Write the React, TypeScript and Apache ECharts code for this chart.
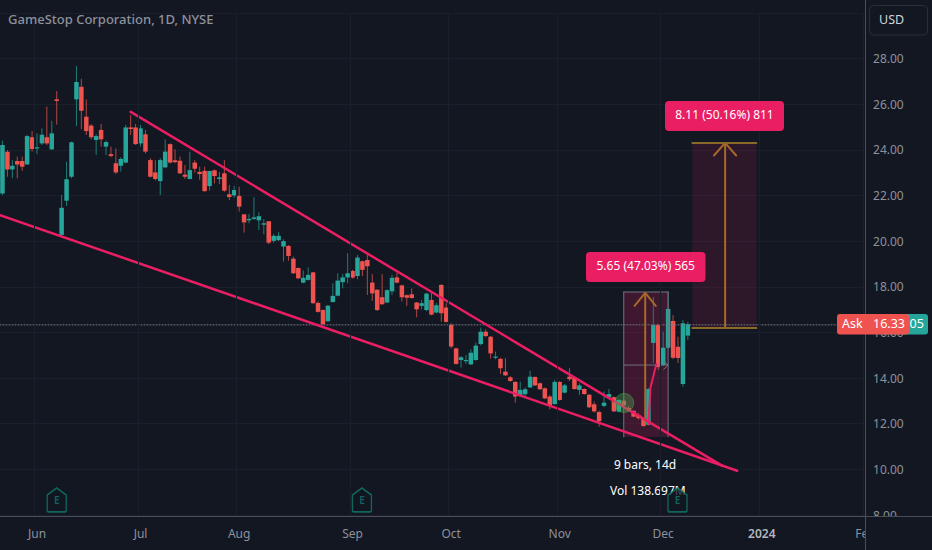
import React, { useEffect, useRef } from "react";
import * as echarts from "echarts";

const BG = "#131722";
const UP = "#26a69a";
const DOWN = "#ef5350";
const UP_WICK = "#1c7f76";
const DOWN_WICK = "#b24744";
const PINK = "#e91e63";
const ORANGE = "#a8682a";
const FONT = "'Noto Sans', sans-serif";

const TOTAL_BARS = 176;
const monthTicks: Record<number, string> = { 7: "Jun", 28: "Jul", 48: "Aug", 71: "Sep", 91: "Oct", 113: "Nov", 134: "Dec", 154: "2024", 175: "Feb" };
const categories = Array.from({ length: TOTAL_BARS }, (_, i) => monthTicks[i] ?? "");

// [open, close, low, high]
const candles: number[][] = [
  [22.09,24.21,22.02,24.40],[23.92,23.14,22.82,23.99],[23.14,23.30,22.75,23.55],[23.51,23.36,22.75,23.70],[23.51,23.26,23.08,23.70],
  [23.36,24.60,23.33,24.65],[24.55,24.03,23.92,24.82],[24.06,24.11,23.81,24.72],[24.28,24.66,24.21,24.94],[24.55,24.28,24.21,25.89],
  [24.02,24.72,23.99,25.27],[26.21,26.14,25.10,26.57],[20.27,21.46,20.19,22.02],[21.77,22.71,21.54,23.48],[22.82,24.33,22.75,24.36],
  [26.21,26.97,25.04,27.67],[26.76,25.71,24.90,27.11],[25.45,24.82,24.65,26.21],[25.06,24.55,24.46,25.13],[24.43,24.60,23.77,24.68],
  [24.87,24.46,24.14,25.13],[24.14,24.34,23.76,24.40],[23.81,23.73,23.67,24.14],[23.41,23.01,22.94,24.06],[23.30,23.60,23.04,23.67],
  [23.44,24.98,23.41,25.09],[24.98,24.91,24.65,25.52],[24.98,24.25,24.21,25.13],[24.28,24.94,24.14,25.09],[24.68,23.92,23.84,24.87],
  [23.55,22.82,22.79,23.63],[23.01,22.72,22.65,23.55],[22.63,23.55,22.02,23.63],[23.23,23.92,23.19,24.46],[24.25,23.44,23.41,24.28],
  [23.54,23.46,23.41,24.02],[23.52,22.97,22.94,23.70],[22.91,22.82,22.73,23.33],[22.72,23.11,22.71,23.92],[23.44,23.17,23.00,23.55],
  [23.03,22.94,22.68,23.26],[23.08,22.19,22.16,23.26],[22.41,23.07,22.21,23.08],[23.10,22.85,22.53,23.14],[22.72,22.79,22.50,23.03],
  [22.97,22.21,22.16,23.55],[22.05,21.93,21.80,22.46],[22.00,22.24,21.90,22.41],[21.98,21.51,21.29,22.38],
  [21.17,20.82,20.37,21.19],[20.91,20.97,20.78,21.19],[20.97,21.04,20.93,21.92],[20.91,21.09,20.49,21.26],[20.72,20.78,20.30,20.96],
  [20.87,19.93,19.87,20.88],[20.01,20.23,19.93,20.31],[20.04,20.23,20.01,20.39],[19.76,20.00,19.10,20.08],[19.79,19.35,19.14,19.82],
  [19.23,18.59,18.56,19.32],[18.82,18.37,18.34,18.84],[18.18,18.39,18.15,18.71],[18.30,18.52,18.27,18.85],[18.63,17.28,17.25,18.65],
  [17.29,16.90,16.87,17.36],[16.98,16.36,16.33,17.01],[16.49,17.17,16.46,17.20],[17.33,17.60,17.31,18.15],[17.61,18.27,17.58,18.59],
  [18.20,18.41,17.93,18.56],[18.41,18.59,18.15,19.47],[18.69,18.40,18.36,18.74],[18.47,19.28,18.33,19.39],[19.12,18.74,18.47,19.14],
  [19.17,18.90,17.64,19.47],[18.18,17.71,17.38,18.55],[17.87,16.98,16.94,17.90],[17.54,17.23,17.22,18.55],[17.31,17.85,17.28,17.89],
  [17.80,18.39,17.64,18.52],[18.41,18.18,18.15,18.62],[18.06,17.54,17.36,18.09],[17.63,17.52,17.16,17.66],[17.67,17.51,17.48,17.93],
  [17.31,17.01,16.66,17.33],[17.16,17.28,17.01,17.42],[16.98,17.70,16.93,17.74],[17.42,16.78,16.75,17.79],[16.87,17.19,16.84,17.28],
  [18.08,16.84,16.47,18.11],[17.09,16.46,16.43,17.28],
  [16.33,15.38,15.30,16.40],[15.30,14.62,14.59,15.33],[14.79,14.91,14.46,14.97],[14.75,14.79,14.62,15.01],[14.60,15.11,14.57,15.26],
  [14.79,15.42,14.76,15.55],[15.49,16.03,15.43,16.21],[16.03,15.84,15.79,16.14],[15.81,15.08,14.85,15.84],[14.89,14.94,14.82,15.16],
  [14.84,14.43,14.18,14.89],[14.28,14.12,14.09,14.87],[14.03,13.87,13.84,14.09],[13.83,13.19,12.92,13.86],[13.22,13.48,13.16,13.84],
  [13.29,13.51,13.10,13.59],[13.59,14.06,13.57,14.32],[14.05,13.68,13.65,14.06],[13.77,13.51,13.48,13.81],[13.55,13.11,13.07,13.59],
  [13.19,12.78,12.63,13.26],[12.86,13.83,12.84,13.92],[13.83,13.04,13.01,13.86],[13.36,13.68,13.33,13.74],[14.06,13.95,13.87,14.43],
  [14.03,13.52,13.49,14.06],[13.48,13.68,13.26,13.77],[13.52,13.30,13.27,13.55],[13.27,12.72,12.68,13.30],[12.85,12.54,12.49,12.97],
  [12.51,12.11,11.87,12.57],[12.78,12.92,12.72,13.41],[13.16,13.30,13.11,13.52],[13.16,12.54,12.51,13.19],[12.53,13.04,12.49,13.07],
  [13.01,12.81,12.75,13.07],[12.69,12.57,12.54,12.78],[12.56,12.31,12.28,12.60],[12.38,12.24,12.19,12.46],[12.24,11.90,11.87,12.28],
  [11.95,13.52,11.92,13.55],[15.54,16.32,14.66,17.55],[16.32,14.48,14.35,16.37],[14.57,15.33,14.53,16.03],[15.33,17.03,15.27,17.77],
  [16.50,14.89,14.83,16.76],[15.37,14.88,14.66,15.81],[13.74,16.40,13.62,16.54],[15.86,16.36,15.67,16.46],
];

// Trend lines and drawing tools: [bar index, price]
const upperWedge = [[26.0,25.66],[146.0,10.15]];
const lowerWedge = [[-0.5,21.14],[149.0,9.94]];
const breakout = [[131.0,11.99],[131.4,13.56],[132.6,14.61]];
const askLine = [[-0.5,16.33],[175.5,16.33]];
const circleMark = [[126.1,12.91]];
const earnings = [[11.0,8.66],[72.9,8.66],[136.9,8.66]];
// [x0, x1, price top, price bottom]
const zones = [[126.0,135.0,17.77,11.42,0.2],[139.9,152.9,24.30,16.19,0.12]];
const rangeEdges = [[[126.0,17.77],[126.0,11.42]],[[135.0,17.77],[135.0,11.42]],[[126.0,14.57],[135.0,14.57]],[[126.0,17.77],[135.0,17.77]],[[134.1,14.72],[135.0,14.57],[134.1,14.38]]];
const arrowLines = [
  [[130.35,12.03],[130.35,17.73]],[[128.2,17.16],[130.35,17.73],[132.5,17.16]],
  [[146.56,16.19],[146.56,24.30]],[[144.3,23.75],[146.56,24.30],[148.8,23.75]],
  [[139.9,24.30],[152.9,24.30]],[[139.9,16.19],[152.9,16.19]],
];
const measureLabels = ["5.65 (47.03%) 565", "8.11 (50.16%) 811"];

const overlayLine = (data: number[][], color: string, width: number, z: number, type: any = "solid") => ({
  type: "line", xAxisIndex: 1, yAxisIndex: 0, data, showSymbol: false, silent: true, z,
  lineStyle: { color, width, type, cap: "round" }, itemStyle: { color },
});

export default function App() {
  const ref = useRef<HTMLDivElement>(null);
  useEffect(() => {
    document.body.style.margin = "0";
    document.body.style.background = BG;
    const chart = echarts.init(ref.current!, null, { renderer: "svg" });
    const showTick = (i: number) => monthTicks[i] != null;
    chart.setOption({
      animation: false,
      backgroundColor: BG,
      textStyle: { fontFamily: FONT },
      grid: { left: -0.77, width: 868.6, top: 12.85, bottom: 35, containLabel: false },
      xAxis: [
        {
          type: "category", data: categories, boundaryGap: true, z: 8,
          axisLine: { show: false },
          axisTick: { show: false, alignWithLabel: true, interval: showTick },
          splitLine: { show: true, interval: showTick, lineStyle: { color: "#1b1f2b", width: 1 } },
          axisLabel: {
            interval: showTick, margin: 12, color: "#8d919c", fontSize: 12, fontFamily: FONT,
            formatter: (v: string) => (v === "2024" ? "{b|2024}" : v),
            rich: { b: { color: "#b2b5be", fontSize: 12, fontWeight: 600, fontFamily: FONT } },
          },
        },
        { type: "value", min: -0.5, max: TOTAL_BARS - 0.5, show: false },
      ],
      yAxis: {
        type: "value", position: "right", min: 8, max: 30, interval: 2, z: 0,
        axisLine: { show: false }, axisTick: { show: false },
        splitLine: { show: true, lineStyle: { color: "#1b1f2b", width: 1 } },
        axisLabel: {
          margin: 5.2, color: "#8d919c", fontSize: 12, fontFamily: FONT,
          formatter: (v: number) => (v === 30 ? "" : v.toFixed(2)),
        },
      },
      series: [
        {
          type: "custom", xAxisIndex: 1, yAxisIndex: 0, z: 1, silent: true, data: zones,
          encode: { x: [0, 1], y: [2, 3] }, clip: false,
          renderItem: (_: any, api: any) => {
            const a = api.coord([api.value(0), api.value(2)]);
            const b = api.coord([api.value(1), api.value(3)]);
            return { type: "rect", shape: { x: a[0], y: a[1], width: b[0] - a[0], height: b[1] - a[1] }, style: { fill: `rgba(233,30,99,${api.value(4)})` } };
          },
        },
        {
          type: "custom", xAxisIndex: 0, yAxisIndex: 0, z: 2, silent: true,
          data: candles.map((c, i) => [i, ...c]),
          encode: { x: 0, y: [1, 2, 3, 4] },
          renderItem: (_: any, api: any) => {
            const i = api.value(0);
            const open = api.value(1), close = api.value(2), low = api.value(3), high = api.value(4);
            const top = api.coord([i, Math.max(open, close)]);
            const bot = api.coord([i, Math.min(open, close)]);
            const lo = api.coord([i, low]);
            const hi = api.coord([i, high]);
            const up = close >= open;
            const w = 4.5;
            return {
              type: "group",
              children: [
                { type: "line", shape: { x1: hi[0], y1: hi[1], x2: lo[0], y2: lo[1] }, style: { stroke: up ? UP_WICK : DOWN_WICK, lineWidth: 1 } },
                { type: "rect", shape: { x: top[0] - w / 2, y: top[1], width: w, height: Math.max(bot[1] - top[1], 1.2) }, style: { fill: up ? UP : DOWN } },
              ],
            };
          },
        },
        overlayLine(askLine, "#787b86", 1, 3, [1, 2]),
        ...rangeEdges.map((d) => overlayLine(d, "#6f7280", 1, 3)),
        ...arrowLines.map((d, i) => overlayLine(d, i >= 4 ? "#8a6a28" : ORANGE, 2, 3)),
        overlayLine(breakout, PINK, 2, 4),
        overlayLine(lowerWedge, PINK, 2.5, 4),
        overlayLine(upperWedge, PINK, 2.5, 4),
        {
          type: "scatter", xAxisIndex: 1, yAxisIndex: 0, z: 4, silent: true, data: circleMark, symbol: "circle", symbolSize: 19,
          itemStyle: { color: "rgba(76,175,80,0.45)", borderColor: "rgba(76,175,80,0.6)", borderWidth: 1 },
        },
        {
          type: "scatter", xAxisIndex: 1, yAxisIndex: 0, z: 6, silent: true, data: earnings,
          symbol: "path://M0 7 L10 0 L20 7 L20 22 Q20 24 18 24 L2 24 Q0 24 0 22 Z", symbolSize: [19, 24],
          itemStyle: { color: BG, borderColor: "#0f7a6c", borderWidth: 1.5 },
          label: { show: true, position: "inside", formatter: "E", color: "#0f7a6c", fontSize: 10, fontWeight: 600, fontFamily: FONT },
        },
      ],
      graphic: [
        { type: "text", x: 8, y: 12, z: 10, style: { text: "GameStop Corporation, 1D, NYSE", fill: "#8d919c", font: `500 13px ${FONT}` } },
        { type: "text", x: 645, y: 458, z: 3, style: { text: "9 bars, 14d", fill: "#ffffff", font: `12px ${FONT}`, textAlign: "center" } },
        { type: "text", x: 610, y: 484, z: 3, style: { text: "Vol 138.697M", fill: "#ffffff", font: `12px ${FONT}` } },
        { type: "rect", z: 10, shape: { x: 586, y: 252, width: 119.5, height: 30, r: 4 }, style: { fill: "#e91e63" } },
        { type: "text", x: 645.75, y: 259, z: 11, style: { text: measureLabels[0], fill: "#ffffff", font: `12px ${FONT}`, textAlign: "center" } },
        { type: "rect", z: 10, shape: { x: 665, y: 101, width: 119, height: 30, r: 4 }, style: { fill: "#e91e63" } },
        { type: "text", x: 724.5, y: 108, z: 11, style: { text: measureLabels[1], fill: "#ffffff", font: `12px ${FONT}`, textAlign: "center" } },
        // bottom strip covers the clipped low label, then the axis rules
        { type: "rect", z: 5, shape: { x: 0, y: 516, width: 932, height: 34 }, style: { fill: BG } },
        { type: "rect", z: 9, shape: { x: 866, y: 516, width: 66, height: 34 }, style: { fill: BG } },
        { type: "rect", z: 9, shape: { x: 866, y: 0, width: 3, height: 516 }, style: { fill: BG } },
        { type: "line", z: 9, shape: { x1: 0, y1: 516.5, x2: 932, y2: 516.5 }, style: { stroke: "#4a4e59", lineWidth: 1 } },
        { type: "line", z: 9, shape: { x1: 865.5, y1: 0, x2: 865.5, y2: 550 }, style: { stroke: "#4a4e59", lineWidth: 1 } },
        // USD box
        { type: "rect", z: 10, shape: { x: 869.5, y: 5.5, width: 58, height: 29.5, r: 4 }, style: { fill: BG, stroke: "#2a2e39", lineWidth: 1 } },
        { type: "text", x: 879, y: 13, z: 11, style: { text: "USD", fill: "#d1d4dc", font: `12.5px ${FONT}` } },
        // Price tags
        { type: "rect", z: 10, shape: { x: 880, y: 314, width: 48, height: 20.5, r: 3 }, style: { fill: "#26a69a" } },
        { type: "text", x: 909.5, y: 317, z: 11, style: { text: "05", fill: "#ffffff", font: `12.5px ${FONT}` } },
        { type: "rect", z: 12, shape: { x: 837, y: 314, width: 72, height: 20.5, r: 3 }, style: { fill: "#ef5350" } },
        { type: "text", x: 842, y: 317, z: 13, style: { text: "Ask", fill: "#ffffff", font: `12.5px ${FONT}` } },
        { type: "text", x: 873, y: 317, z: 13, style: { text: "16.33", fill: "#ffffff", font: `12.5px ${FONT}` } },
      ],
    });
    return () => chart.dispose();
  }, []);
  return <div ref={ref} style={{ width: 932, height: 550 }} />;
}
